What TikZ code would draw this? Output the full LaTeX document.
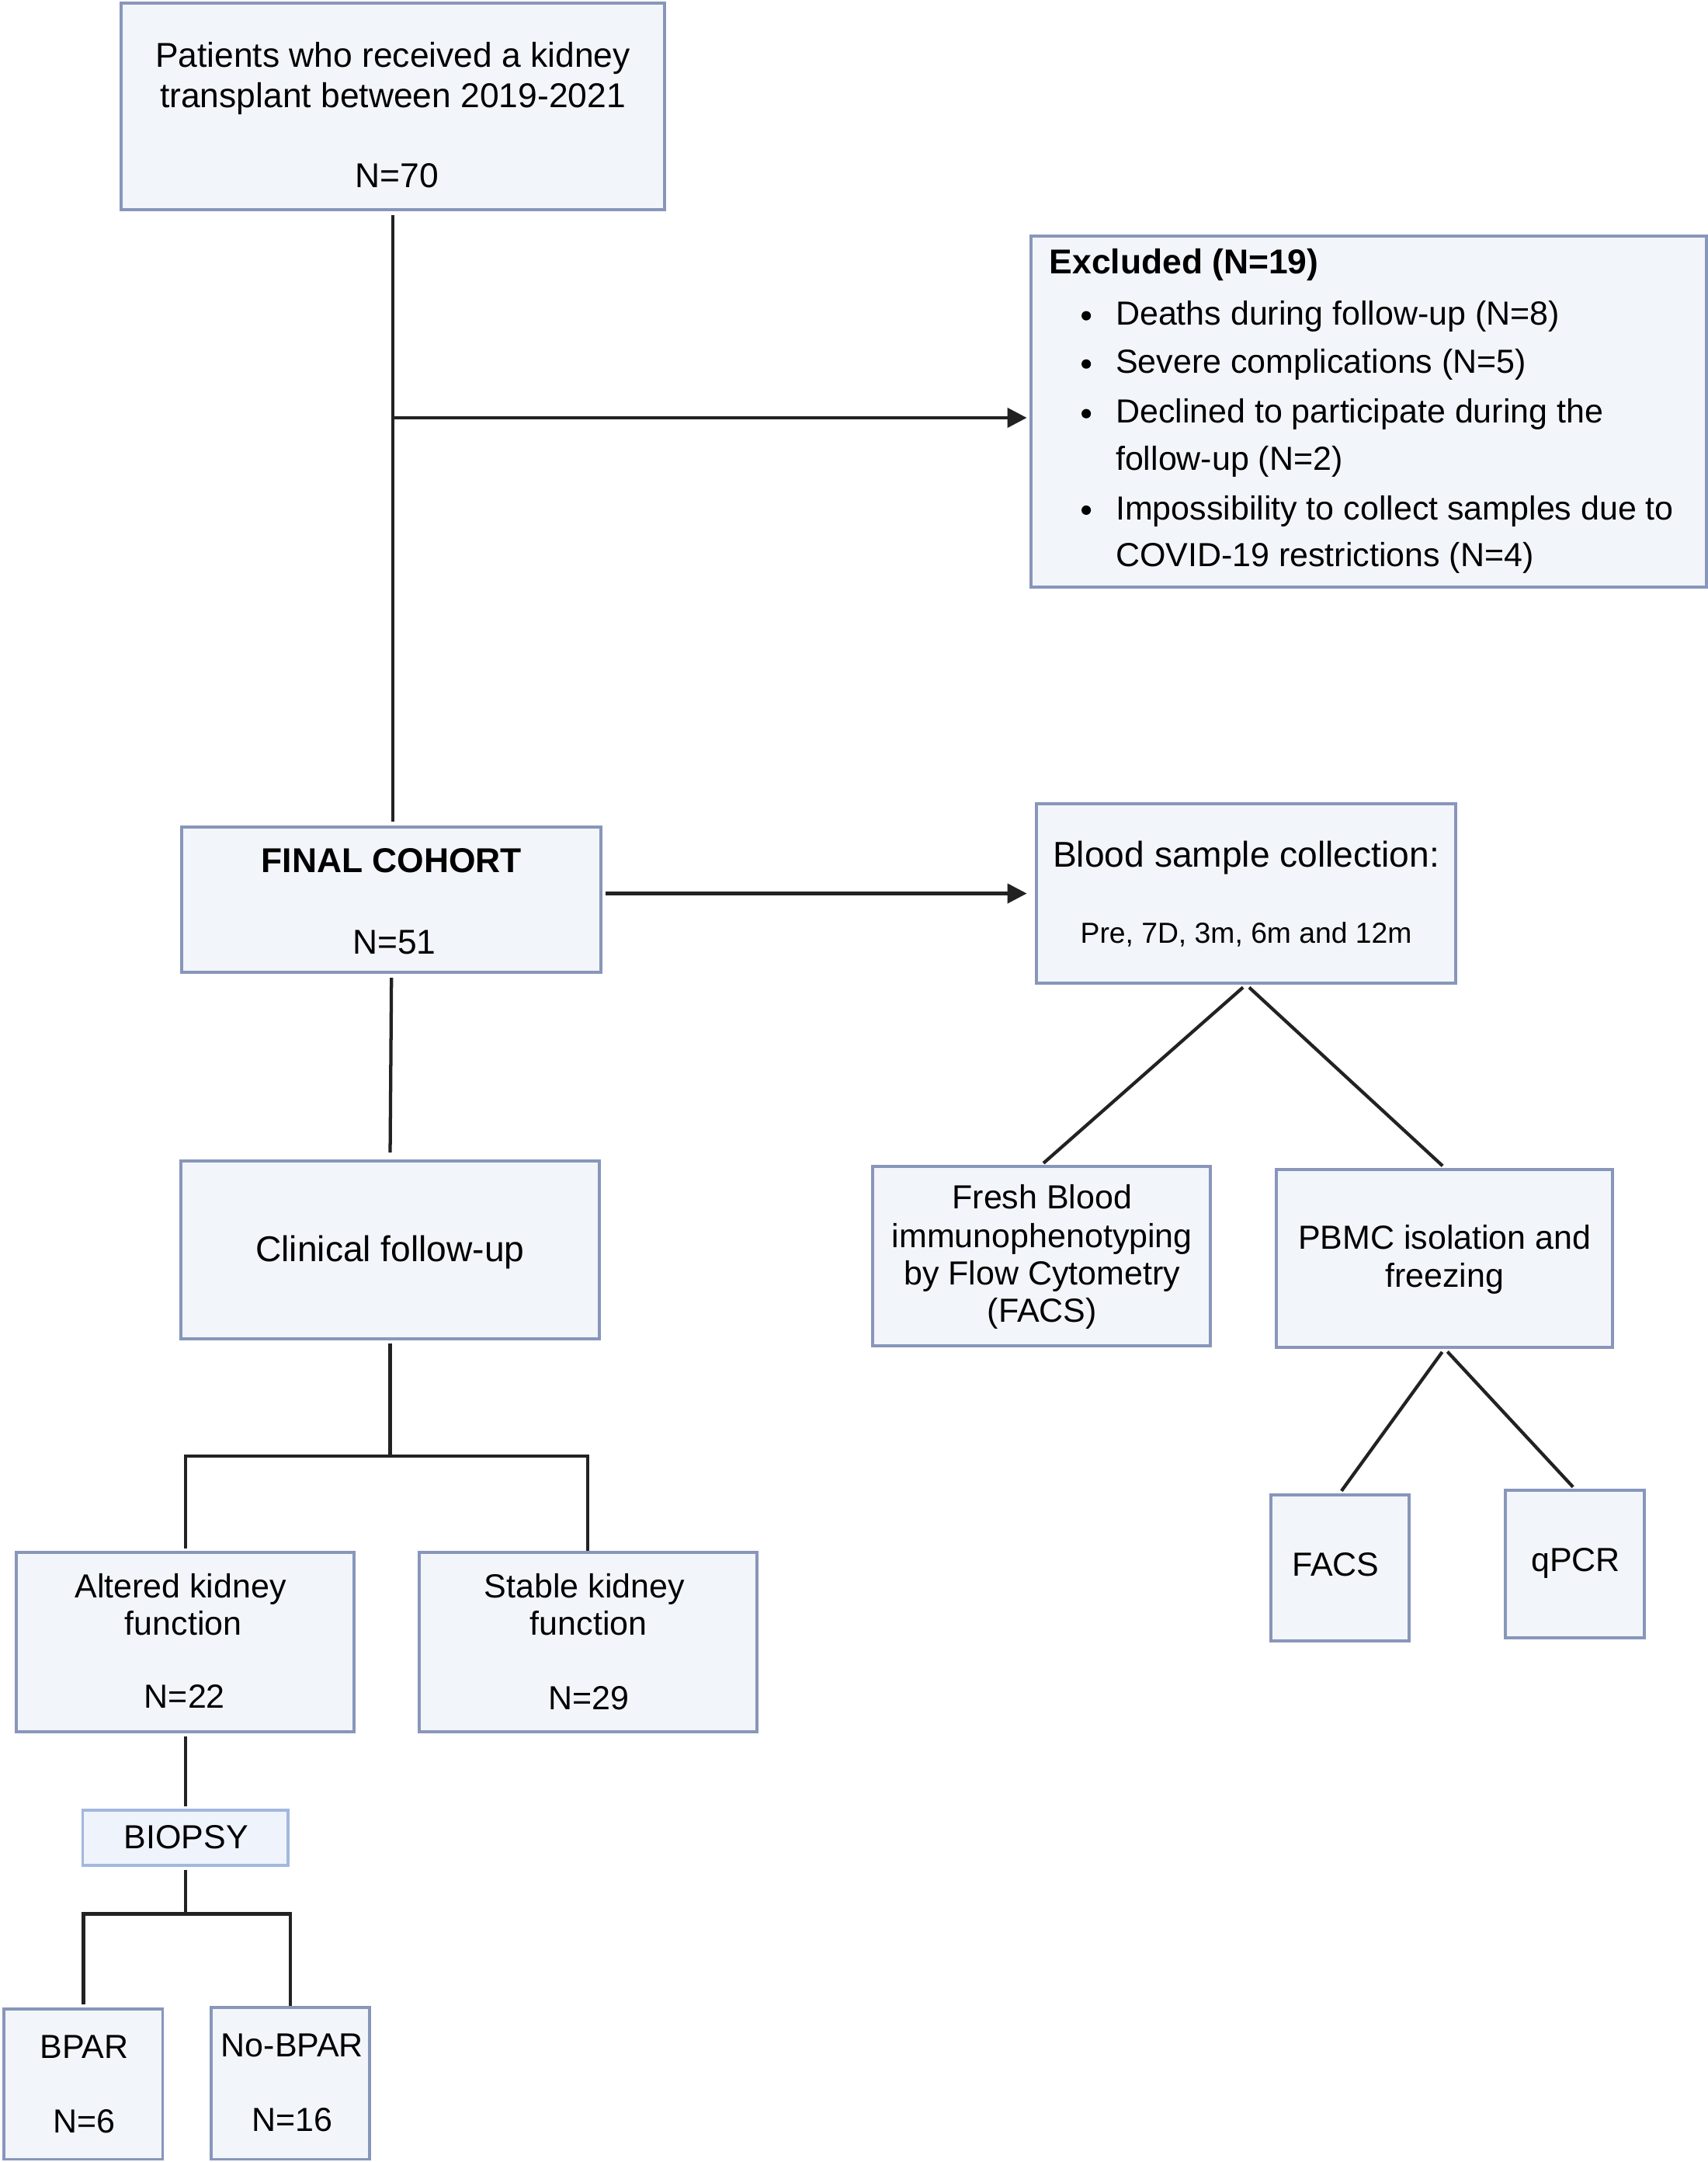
\documentclass[tikz,border=0pt]{standalone}
\usepackage{fontspec}
\setmainfont{Liberation Sans}
\usetikzlibrary{arrows.meta,fit}
\definecolor{boxfill}{HTML}{F2F5FA}
\definecolor{boxline}{HTML}{8896BA}
\definecolor{bfill}{HTML}{EEF3FC}
\definecolor{bline}{HTML}{A3B8DE}
\definecolor{connc}{HTML}{222222}
\begin{document}
\begin{tikzpicture}[x=0.5pt,y=-0.5pt,
 box/.style={draw=boxline, fill=boxfill, line width=1.1pt, inner sep=0pt},
 lbox/.style={draw=bline, fill=bfill, line width=1.1pt, inner sep=0pt},
 t/.style={inner sep=0pt, text height=0.72em, text depth=0pt, yshift=-0.8pt, font=\fontsize{12.5}{15}\selectfont},
 ts/.style={t, font=\fontsize{12.1}{15}\selectfont},
 bul/.style={circle, fill=black, inner sep=0pt, minimum size=3.4pt},
 conn/.style={draw=connc, line width=1.2pt},
 arr/.style={conn, -{Triangle[length=7pt,width=7pt]}}]
\useasboundingbox (0,0) rectangle (1239,1568);

% boxes
\node[box, fit={(88,2) (482,152)}] (top) {};
\node[box, fit={(748,171) (1238,426)}] (excl) {};
\node[box, fit={(132,600) (436,705)}] (final) {};
\node[box, fit={(752,583) (1056,713)}] (blood) {};
\node[box, fit={(131,842) (435,971)}] (clin) {};
\node[box, fit={(633,846) (878,976)}] (fresh) {};
\node[box, fit={(926,848) (1170,977)}] (pbmc) {};
\node[box, fit={(922,1084) (1022,1190)}] (facs) {};
\node[box, fit={(1092,1081) (1193,1188)}] (qpcr) {};
\node[box, fit={(12,1126) (257,1256)}] (alt) {};
\node[box, fit={(304,1126) (549,1256)}] (stab) {};
\node[lbox, fit={(60,1313) (209,1353)}] (biop) {};
\node[box, fit={(3,1457) (118,1566)}] (bpar) {};
\node[box, fit={(153,1456) (268,1566)}] (nobpar) {};

% texts
\node[t] (a1) at (285,40) {Patients who received a kidney};
\node[t] (a2) at (285,69) {transplant between 2019-2021};
\node[t] (a3) at (288,127) {N=70};

\node[t, anchor=west, font=\fontsize{12.5}{15}\selectfont\bfseries] (e0) at (761,190) {Excluded (N=19)};
\node[bul] (b1) at (788,229) {};
\node[bul] (b2) at (788,264) {};
\node[bul] (b3) at (788,300) {};
\node[bul] (b4) at (788,370) {};
\node[ts, anchor=west] (e1) at (809,227) {Deaths during follow-up (N=8)};
\node[ts, anchor=west] (e2) at (809,262) {Severe complications (N=5)};
\node[ts, anchor=west] (e3) at (809,298) {Declined to participate during the};
\node[ts, anchor=west] (e4) at (809,332) {follow-up (N=2)};
\node[ts, anchor=west] (e5) at (809,368) {Impossibility to collect samples due to};
\node[ts, anchor=west] (e6) at (809,402) {COVID-19 restrictions (N=4)};

\node[t, font=\fontsize{12.5}{15}\selectfont\bfseries] (f1) at (284,624) {FINAL COHORT};
\node[t] (f2) at (286,683) {N=51};

\node[t, font=\fontsize{13}{15}\selectfont] (s1) at (904,620) {Blood sample collection:};
\node[t, font=\fontsize{10.5}{13}\selectfont] (s2) at (904,675) {Pre, 7D, 3m, 6m and 12m};

\node[t, font=\fontsize{13}{15}\selectfont] (c1) at (283,906) {Clinical follow-up};

\node[ts] (r1) at (756,868) {Fresh Blood};
\node[ts] (r2) at (756,896) {immunophenotyping};
\node[ts] (r3) at (756,923) {by Flow Cytometry};
\node[ts] (r4) at (756,950) {(FACS)};

\node[ts] (p1) at (1048,897) {PBMC isolation and};
\node[ts] (p2) at (1048,925) {freezing};

\node[ts] (q1) at (969,1134) {FACS};
\node[ts] (q2) at (1143,1131) {qPCR};

\node[ts] (k1) at (131,1150) {Altered kidney};
\node[ts] (k2) at (133,1177) {function};
\node[ts] (k3) at (134,1230) {N=22};
\node[ts] (k4) at (424,1150) {Stable kidney};
\node[ts] (k5) at (427,1177) {function};
\node[ts] (k6) at (427,1231) {N=29};

\node[ts] (o1) at (135,1332) {BIOPSY};
\node[ts] (o2) at (61,1484) {BPAR};
\node[ts] (o3) at (61,1538) {N=6};
\node[ts] (o4) at (212,1483) {No-BPAR};
\node[ts] (o5) at (212,1537) {N=16};

% connectors
\coordinate (j1) at (285,303);
\coordinate (h1) at (0,1056);
\coordinate (h2) at (0,1388);
\draw[conn, shorten <=1.5pt, shorten >=1.5pt] (top.south) -- (top.south |- final.north);
\draw[arr, shorten >=1pt] (j1) -- (j1 -| excl.west);
\draw[arr, shorten <=1pt, shorten >=3pt] (final.east |- blood.west) -- (blood.west);
\draw[conn, shorten <=1.5pt, shorten >=2.5pt] (final.south) -- (clin.north);
\draw[conn, shorten <=1pt] (clin.south) -- (clin.south |- h1);
\draw[conn, shorten <=1pt] (alt.north) -- (alt.north |- h1) -- (stab.north |- h1) -- (stab.north);
\draw[conn, shorten <=1pt, shorten >=1pt] (alt.south) -- (biop.north);
\draw[conn, shorten <=1pt] (biop.south) -- (biop.south |- h2);
\draw[conn, shorten <=1pt] (bpar.north) -- (bpar.north |- h2) -- (nobpar.north |- h2) -- (nobpar.north);
\draw[conn, shorten <=1.5pt, shorten >=1pt] (blood.south) -- (fresh.north);
\draw[conn, shorten <=1.5pt, shorten >=1pt] (blood.south) -- (pbmc.north);
\draw[conn, shorten <=1.5pt, shorten >=1pt] (pbmc.south) -- (facs.north);
\draw[conn, shorten <=1.5pt, shorten >=1pt] (pbmc.south) -- (qpcr.north);
\end{tikzpicture}
\end{document}
